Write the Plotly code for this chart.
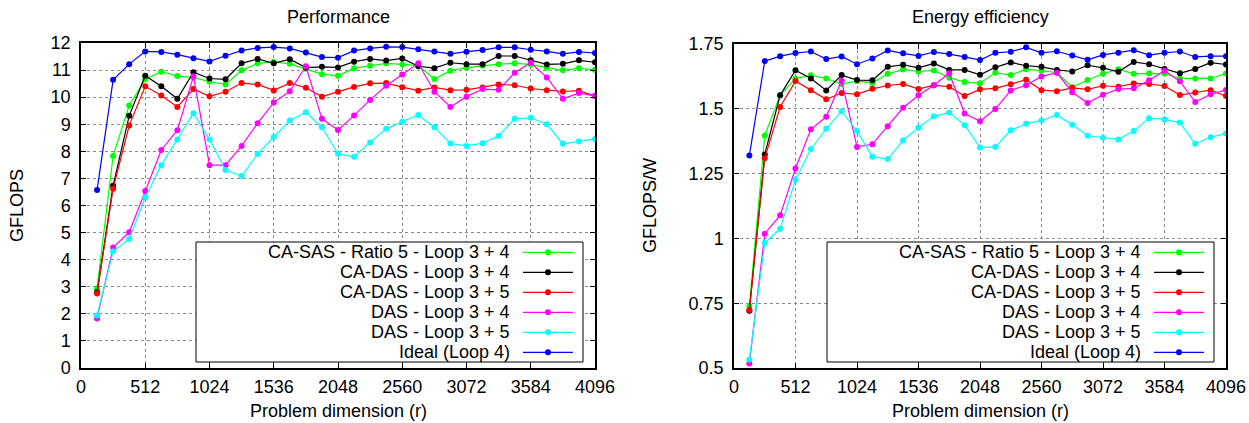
import plotly.graph_objects as go

W, H = 1249, 423

# ---------------- data ----------------
dims = [128 * i for i in range(1, 33)]
series_names = ["CA-SAS - Ratio 5 - Loop 3 + 4", "CA-DAS - Loop 3 + 4", "CA-DAS - Loop 3 + 5",
                "DAS - Loop 3 + 4", "DAS - Loop 3 + 5", "Ideal (Loop 4)"]
series_colors = ["#00ff00", "#000000", "#ff0000", "#ff00ff", "#00ffff", "#0000ff"]

gflops_ca_sas_34 = [2.94, 7.83, 9.69, 10.66, 10.94, 10.78, 10.73, 10.57, 10.47, 10.99, 11.25, 11.30, 11.23, 11.05, 10.85, 10.79,
                    11.07, 11.16, 11.25, 11.21, 11.17, 10.67, 10.98, 11.09, 11.16, 11.22, 11.25, 11.21, 11.09, 10.99, 11.07, 11.00]
gflops_ca_das_34 = [2.80, 6.73, 9.31, 10.79, 10.40, 9.94, 10.92, 10.69, 10.66, 11.25, 11.41, 11.25, 11.40, 11.09, 11.12, 11.10,
                    11.31, 11.41, 11.35, 11.43, 11.14, 11.07, 11.27, 11.22, 11.22, 11.52, 11.52, 11.36, 11.21, 11.23, 11.36, 11.29]
gflops_ca_das_35 = [2.75, 6.62, 8.95, 10.40, 10.06, 9.64, 10.30, 10.03, 10.20, 10.52, 10.47, 10.25, 10.52, 10.35, 10.02, 10.20,
                    10.38, 10.51, 10.52, 10.37, 10.24, 10.36, 10.26, 10.27, 10.36, 10.47, 10.44, 10.32, 10.26, 10.21, 10.24, 10.04]
gflops_das_34 = [1.83, 4.45, 5.01, 6.54, 8.05, 8.78, 10.77, 7.49, 7.49, 8.20, 9.04, 9.80, 10.22, 11.14, 9.20, 8.79,
                 9.32, 9.90, 10.42, 10.84, 11.25, 10.20, 9.64, 10.02, 10.30, 10.27, 10.90, 11.27, 10.73, 9.94, 10.15, 10.05]
gflops_das_35 = [1.94, 4.30, 4.76, 6.30, 7.49, 8.44, 9.41, 8.44, 7.31, 7.09, 7.90, 8.53, 9.14, 9.44, 8.89, 7.91,
                 7.80, 8.33, 8.83, 9.09, 9.34, 8.89, 8.29, 8.20, 8.30, 8.57, 9.20, 9.24, 9.00, 8.28, 8.36, 8.46]
gflops_ideal = [6.57, 10.64, 11.22, 11.69, 11.67, 11.57, 11.44, 11.32, 11.53, 11.72, 11.82, 11.85, 11.80, 11.65, 11.48, 11.46,
                11.72, 11.80, 11.86, 11.85, 11.77, 11.69, 11.60, 11.68, 11.74, 11.84, 11.84, 11.75, 11.69, 11.60, 11.67, 11.63]

eff_ca_sas_34 = [0.739, 1.397, 1.552, 1.617, 1.629, 1.617, 1.596, 1.607, 1.600, 1.635, 1.652, 1.644, 1.648, 1.620, 1.603, 1.599,
                 1.639, 1.630, 1.653, 1.647, 1.640, 1.583, 1.611, 1.635, 1.653, 1.635, 1.637, 1.636, 1.617, 1.617, 1.617, 1.636]
eff_ca_das_34 = [0.721, 1.324, 1.552, 1.649, 1.617, 1.571, 1.630, 1.611, 1.610, 1.662, 1.670, 1.658, 1.675, 1.650, 1.650, 1.631,
                 1.660, 1.679, 1.666, 1.662, 1.650, 1.644, 1.668, 1.658, 1.643, 1.681, 1.672, 1.654, 1.637, 1.654, 1.678, 1.671]
eff_ca_das_35 = [0.724, 1.309, 1.507, 1.607, 1.572, 1.537, 1.561, 1.556, 1.577, 1.590, 1.596, 1.576, 1.591, 1.585, 1.549, 1.575,
                 1.579, 1.595, 1.612, 1.572, 1.568, 1.581, 1.575, 1.589, 1.585, 1.598, 1.596, 1.588, 1.553, 1.563, 1.572, 1.549]
eff_das_34 = [0.517, 1.018, 1.089, 1.270, 1.421, 1.469, 1.608, 1.353, 1.363, 1.433, 1.504, 1.552, 1.591, 1.637, 1.482, 1.452,
              1.499, 1.571, 1.591, 1.625, 1.639, 1.564, 1.522, 1.554, 1.576, 1.579, 1.610, 1.647, 1.606, 1.526, 1.556, 1.573]
eff_das_35 = [0.533, 0.982, 1.037, 1.226, 1.345, 1.423, 1.491, 1.414, 1.315, 1.306, 1.378, 1.428, 1.471, 1.486, 1.437, 1.351,
              1.353, 1.417, 1.442, 1.455, 1.476, 1.438, 1.396, 1.388, 1.382, 1.414, 1.464, 1.459, 1.447, 1.365, 1.390, 1.405]
eff_ideal = [1.320, 1.684, 1.703, 1.715, 1.721, 1.692, 1.702, 1.672, 1.694, 1.725, 1.714, 1.704, 1.719, 1.711, 1.700, 1.688,
             1.716, 1.720, 1.737, 1.716, 1.722, 1.706, 1.689, 1.708, 1.716, 1.726, 1.707, 1.716, 1.721, 1.700, 1.703, 1.703]

x_ticks = [0, 512, 1024, 1536, 2048, 2560, 3072, 3584, 4096]
y1_ticks = list(range(0, 13))
y2_ticks = [0.5, 0.75, 1, 1.25, 1.5, 1.75]
y2_ticktext = ["0.5", "0.75", "1", "1.25", "1.5", "1.75"]

gflops_series = [gflops_ca_sas_34, gflops_ca_das_34, gflops_ca_das_35, gflops_das_34, gflops_das_35, gflops_ideal]
eff_series = [eff_ca_sas_34, eff_ca_das_34, eff_ca_das_35, eff_das_34, eff_das_35, eff_ideal]

# ---------------- figure ----------------
FONT = "Liberation Sans, Arial, sans-serif"
FS = 18


def X(px):
    return px / W


def Y(py):
    return 1 - py / H


fig = go.Figure()
for name, col, ys in zip(series_names, series_colors, gflops_series):
    fig.add_trace(go.Scatter(x=dims, y=ys, mode="lines+markers", name=name,
                             line=dict(color=col, width=1.2), marker=dict(color=col, size=6),
                             xaxis="x", yaxis="y", showlegend=False))
for name, col, ys in zip(series_names, series_colors, eff_series):
    fig.add_trace(go.Scatter(x=dims, y=ys, mode="lines+markers", name=name,
                             line=dict(color=col, width=1.2), marker=dict(color=col, size=6),
                             xaxis="x2", yaxis="y2", showlegend=False))

axis_common = dict(showline=True, linecolor="black", linewidth=1.5, mirror="allticks",
                   ticks="inside", ticklen=5, tickcolor="black", tickwidth=1,
                   showgrid=True, gridcolor="#8a8a8a", griddash="dot", gridwidth=1,
                   zeroline=False, tickfont=dict(family=FONT, size=FS, color="black"),
                   automargin=False)

fig.update_layout(
    width=W, height=H,
    margin=dict(l=0, r=0, t=0, b=0, autoexpand=False),
    paper_bgcolor="white", plot_bgcolor="white",
    font=dict(family=FONT, size=FS, color="black"),
    xaxis=dict(domain=[X(81), X(595)], range=[0, 4096], tickvals=x_ticks, anchor="y",
               ticklabelstandoff=2, **axis_common),
    yaxis=dict(domain=[Y(368), Y(43)], range=[0, 12], tickvals=y1_ticks, anchor="x",
               ticklabelstandoff=5, **axis_common),
    xaxis2=dict(domain=[X(734), X(1226)], range=[0, 4096], tickvals=x_ticks, anchor="y2",
                ticklabelstandoff=2, **axis_common),
    yaxis2=dict(domain=[Y(368), Y(44)], range=[0.5, 1.75], tickvals=y2_ticks, ticktext=y2_ticktext,
                anchor="x2", ticklabelstandoff=5, **axis_common),
)

annotations = []
shapes = []


def text(x, y, s, angle=0, xanchor="center"):
    annotations.append(dict(x=X(x), y=Y(y), xref="paper", yref="paper", text=s, showarrow=False,
                            textangle=angle, xanchor=xanchor, yanchor="middle",
                            font=dict(family=FONT, size=FS, color="black")))


text(338, 17, "Performance")
text(980, 17, "Energy efficiency")
text(338, 411, "Problem dimension (r)")
text(980, 411, "Problem dimension (r)")
text(17, 206, "GFLOPS", angle=-90)
text(650, 206, "GFLOPS/W", angle=-90)

# legends (one per panel)
for off in (0, 631):
    shapes.append(dict(type="rect", xref="paper", yref="paper", x0=X(196 + off), x1=X(583 + off),
                       y0=Y(362), y1=Y(242), line=dict(color="black", width=1), fillcolor="white", layer="above"))
    for i, (name, col) in enumerate(zip(series_names, series_colors)):
        ry = 252.3 + 20 * i
        annotations.append(dict(x=X(512 + off), y=Y(ry), xref="paper", yref="paper", text=name,
                                showarrow=False, xanchor="right", yanchor="middle",
                                font=dict(family=FONT, size=FS, color="black")))
        shapes.append(dict(type="line", xref="paper", yref="paper", x0=X(523 + off), x1=X(573 + off),
                           y0=Y(ry), y1=Y(ry), line=dict(color=col, width=1.2), layer="above"))
        shapes.append(dict(type="circle", xref="paper", yref="paper", xsizemode="pixel", ysizemode="pixel",
                           xanchor=X(548 + off), yanchor=Y(ry), x0=-3, x1=3, y0=-3, y1=3,
                           fillcolor=col, line=dict(color=col, width=0), layer="above"))

fig.update_layout(annotations=annotations, shapes=shapes)
fig.write_html("out.html")
